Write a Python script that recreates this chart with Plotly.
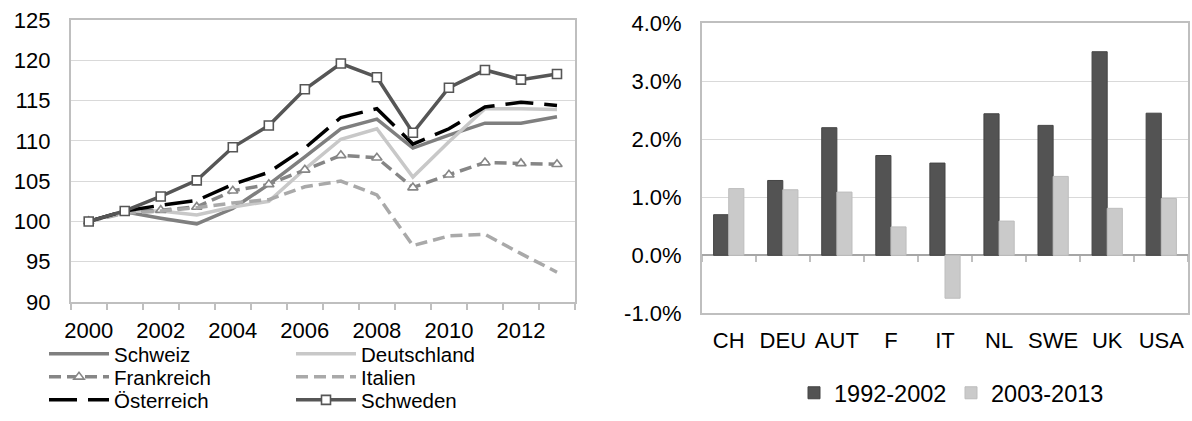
import plotly.graph_objects as go

### Data ###

years = list(range(2000, 2014))

schweiz = [100, 101.2, 100.4, 99.7, 101.6, 104.6, 108.0, 111.5, 112.7, 109.1, 110.7, 112.2, 112.2, 113.0]
deutschland = [100, 101.3, 101.3, 100.8, 101.8, 102.5, 106.5, 110.2, 111.5, 105.5, 109.9, 114.0, 114.0, 113.9]
frankreich = [100, 101.2, 101.4, 101.8, 103.8, 104.6, 106.4, 108.2, 107.9, 104.2, 105.8, 107.3, 107.2, 107.1]
italien = [100, 101.0, 101.3, 101.7, 102.3, 102.7, 104.3, 105.0, 103.3, 97.0, 98.2, 98.4, 96.0, 93.7]
oesterreich = [100, 101.3, 102.0, 102.6, 104.6, 106.1, 109.1, 112.9, 114.0, 109.6, 111.5, 114.2, 114.8, 114.4]
schweden = [100, 101.3, 103.1, 105.1, 109.2, 111.9, 116.4, 119.6, 117.9, 111.0, 116.6, 118.8, 117.6, 118.3]

year_ticks = [2000, 2002, 2004, 2006, 2008, 2010, 2012]

countries = ["CH", "DEU", "AUT", "F", "IT", "NL", "SWE", "UK", "USA"]
growth_1992_2002 = [0.0070, 0.0129, 0.0220, 0.0172, 0.0159, 0.0244, 0.0224, 0.0351, 0.0245]
growth_2003_2013 = [0.0115, 0.0113, 0.0109, 0.0049, -0.0074, 0.0059, 0.0136, 0.0081, 0.0098]

pct_ticks = [-0.01, 0.0, 0.01, 0.02, 0.03, 0.04]

FONT = "Liberation Sans, Arial, sans-serif"
W, H = 1192, 421

### Figure ###

fig = go.Figure()

# Line series: (name, values, color, dash, marker, legend row)
lines = [
    ("Schweiz", schweiz, "#7f7f7f", "solid", None, "legend"),
    ("Deutschland", deutschland, "#c8c8c8", "solid", None, "legend"),
    ("Frankreich", frankreich, "#868686", "12px,6px", "triangle-up", "legend2"),
    ("Italien", italien, "#a9a9a9", "12px,6px", None, "legend2"),
    ("Österreich", oesterreich, "#000000", "28px,11px", None, "legend3"),
    ("Schweden", schweden, "#565656", "solid", "square", "legend3"),
]

for name, vals, color, dash, symbol, leg in lines:
    trace = go.Scatter(
        x = years,
        y = vals,
        name = name,
        mode = "lines+markers" if symbol else "lines",
        line = dict(color = color, width = 3.5, dash = dash),
        legend = leg,
        xaxis = "x",
        yaxis = "y",
    )
    if symbol:
        trace.marker = dict(symbol = symbol, size = 9, color = "white",
                            line = dict(color = color, width = 1.6))
    fig.add_trace(trace)

# Bars
fig.add_trace(go.Bar(x = countries, y = growth_1992_2002, name = "1992-2002",
                     marker = dict(color = "#535353", line = dict(color = "#444444", width = 1)),
                     legend = "legend4", xaxis = "x2", yaxis = "y2"))
fig.add_trace(go.Bar(x = countries, y = growth_2003_2013, name = "2003-2013",
                     marker = dict(color = "#cacaca", line = dict(color = "#bdbdbd", width = 1)),
                     legend = "legend4", xaxis = "x2", yaxis = "y2"))

# Empty helper trace so the boundary-tick axis (x3) gets drawn
fig.add_trace(go.Scatter(x = [None], y = [None], xaxis = "x3", yaxis = "y2",
                         showlegend = False, hoverinfo = "skip"))

def px_x(p):
    return p / W

def px_y(p):
    return (H - p) / H

# Right panel vertical placement, and where its 0% line sits in paper units
bar_range = [-0.01, 0.04]
bar_domain = [px_y(313.3), px_y(23.3)]
zero_pos = bar_domain[0] + (0 - bar_range[0]) / (bar_range[1] - bar_range[0]) * (bar_domain[1] - bar_domain[0])

row_legend = dict(orientation = "h", xanchor = "left", yanchor = "middle",
                  itemwidth = 60, entrywidth = 172, entrywidthmode = "pixels",
                  font = dict(family = FONT, size = 20.5, color = "black"),
                  bgcolor = "rgba(0,0,0,0)", x = px_x(44))

fig.update_layout(
    width = W, height = H,
    margin = dict(l = 0, r = 0, t = 0, b = 0),
    paper_bgcolor = "white", plot_bgcolor = "white",
    font = dict(family = FONT, size = 22, color = "black"),
    showlegend = True,
    barmode = "group", bargap = 0.44, bargroupgap = 0,
    xaxis = dict(
        domain = [px_x(70.7), px_x(575)],
        range = [1999.5, 2013.5],
        tickvals = year_ticks, ticks = "",
        showgrid = False, zeroline = False, automargin = False,
        showline = True, linecolor = "#bfbfbf", linewidth = 1.5, mirror = True,
        ticklabelstandoff = 8,
        minor = dict(tick0 = 1999.5, dtick = 1, ticks = "outside", ticklen = 6,
                     tickcolor = "#bfbfbf", tickwidth = 1.5, showgrid = False),
        anchor = "y",
    ),
    yaxis = dict(
        domain = [px_y(302), px_y(20)],
        range = [90, 125], dtick = 5, ticks = "",
        showgrid = True, gridcolor = "#d9d9d9", gridwidth = 1.2, automargin = False,
        zeroline = False, showline = True, linecolor = "#bfbfbf", linewidth = 1.5, mirror = True,
        ticklabelstandoff = 14,
        anchor = "x",
    ),
    xaxis2 = dict(
        domain = [px_x(701.7), px_x(1188.3)],
        type = "category", ticks = "",
        showgrid = False, zeroline = False, automargin = False,
        showline = True, linecolor = "#bfbfbf", linewidth = 1.5, mirror = True,
        ticklabelstandoff = 7,
        anchor = "y2",
    ),
    # category boundary ticks hanging from the 0% line
    xaxis3 = dict(
        domain = [px_x(701.7), px_x(1188.3)],
        range = [-0.5, len(countries) - 0.5],
        tick0 = -0.5, dtick = 1, ticks = "outside", ticklen = 6,
        tickcolor = "#bfbfbf", tickwidth = 1.5,
        showticklabels = False, showgrid = False, zeroline = False, showline = False,
        automargin = False, fixedrange = True,
        anchor = "free", position = zero_pos, overlaying = "x2",
    ),
    yaxis2 = dict(
        domain = bar_domain,
        range = bar_range, ticks = "",
        tickvals = pct_ticks, ticktext = [f"{v * 100:.1f}%" for v in pct_ticks],
        showgrid = True, gridcolor = "#d9d9d9", gridwidth = 1.2, automargin = False,
        zeroline = True, zerolinecolor = "#a6a6a6", zerolinewidth = 1.5,
        showline = True, linecolor = "#bfbfbf", linewidth = 1.5, mirror = True,
        ticklabelstandoff = 14,
        anchor = "x2",
    ),
    legend = dict(row_legend, y = px_y(354)),
    legend2 = dict(row_legend, y = px_y(377)),
    legend3 = dict(row_legend, y = px_y(400)),
    legend4 = dict(orientation = "h", xanchor = "left", yanchor = "middle",
                   x = px_x(794), y = px_y(393),
                   itemwidth = 30, entrywidth = 112, entrywidthmode = "pixels",
                   font = dict(family = FONT, size = 23.5, color = "black"),
                   bgcolor = "rgba(0,0,0,0)"),
)

# Page body has a default 8px margin; drop it so the figure fills the window
fig.write_html("out.html", config = {"displayModeBar": False},
               post_script = "document.body.style.margin = '0';")
